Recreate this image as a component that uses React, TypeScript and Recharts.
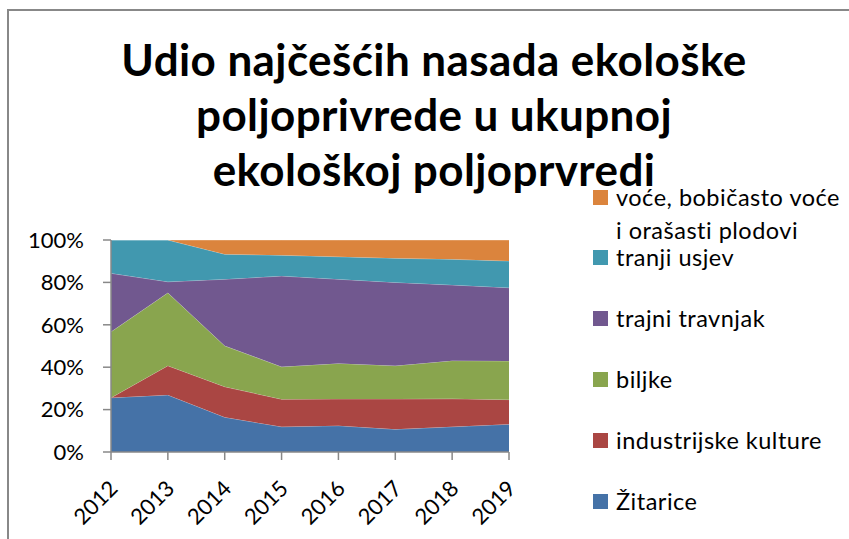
import { Area, AreaChart, XAxis, YAxis } from "recharts";

const YEARS = ["2012", "2013", "2014", "2015", "2016", "2017", "2018", "2019"];

const ZITARICE = [25.6, 26.9, 16.4, 11.9, 12.4, 10.7, 11.9, 13.1];
const INDUSTRIJSKE = [0, 13.8, 14.4, 13.0, 12.6, 14.3, 13.2, 11.6];
const BILJKE = [31.1, 34.4, 19.3, 15.3, 16.8, 15.7, 18.0, 18.2];
const TRAVNJAK = [27.6, 5.2, 31.4, 42.8, 39.7, 39.3, 35.7, 34.6];
const USJEV = [15.7, 19.7, 11.8, 9.8, 10.6, 11.4, 12.1, 12.6];
const VOCE = [0, 0, 6.7, 7.2, 7.9, 8.6, 9.1, 9.9];

const Y_TICKS = [0, 0.2, 0.4, 0.6, 0.8, 1];

const TITLE = [
  "Udio najčešćih nasada ekološke",
  "poljoprivrede u ukupnoj",
  "ekološkoj poljoprvredi",
];

// bottom of the stack first
const SERIES = [
  { key: "zitarice", name: "Žitarice", values: ZITARICE, color: "#4572A7" },
  { key: "industrijske", name: "industrijske kulture", values: INDUSTRIJSKE, color: "#AA4643" },
  { key: "biljke", name: "biljke", values: BILJKE, color: "#89A54E" },
  { key: "travnjak", name: "trajni travnjak", values: TRAVNJAK, color: "#71588F" },
  { key: "usjev", name: "tranji usjev", values: USJEV, color: "#4198AF" },
  { key: "voce", name: "voće, bobičasto voće i orašasti plodovi", values: VOCE, color: "#DB843D" },
];

const data = YEARS.map((year, i) => {
  const row: Record<string, string | number> = { year };
  SERIES.forEach((s) => {
    row[s.key] = s.values[i];
  });
  return row;
});

const FONT = "Lato, 'Open Sans', sans-serif";
const AXIS = "#888888";

function YearTick({ x, y, payload }: { x?: number; y?: number; payload?: { value: string } }) {
  return (
    <g transform={`translate(${x},${y})`}>
      <text
        x={0}
        y={0}
        transform="translate(8,28) rotate(-45)"
        textAnchor="end"
        fontSize={22}
        fontFamily={FONT}
        fill="#000"
      >
        {payload?.value}
      </text>
    </g>
  );
}

export default function App() {
  const legend = [...SERIES].reverse();
  return (
    <div
      style={{
        position: "absolute",
        left: 0,
        top: 0,
        width: 849,
        height: 539,
        overflow: "hidden",
        background: "#fff",
        fontFamily: FONT,
      }}
    >
      <div
        style={{
          position: "absolute",
          left: 7,
          top: 9,
          width: 900,
          height: 600,
          borderLeft: `2px solid ${AXIS}`,
          borderTop: `2px solid ${AXIS}`,
        }}
      />
      <div
        style={{
          position: "absolute",
          left: 34,
          top: 32,
          width: 800,
          textAlign: "center",
          fontWeight: 700,
          fontSize: 44,
          letterSpacing: 0.4,
          lineHeight: "55px",
          color: "#000",
        }}
      >
        {TITLE.map((t) => (
          <div key={t}>{t}</div>
        ))}
      </div>
      <div style={{ position: "absolute", left: 0, top: 0 }}>
        <AreaChart
          width={849}
          height={539}
          data={data}
          stackOffset="expand"
          margin={{ top: 240, right: 340, bottom: 7, left: 11 }}
        >
          <XAxis
            dataKey="year"
            height={80}
            stroke={AXIS}
            strokeWidth={1.5}
            tickSize={8}
            tick={<YearTick />}
            interval={0}
          />
          <YAxis
            width={100}
            domain={[0, 1]}
            ticks={Y_TICKS}
            tickFormatter={(v: number) => `${Math.round(v * 100)}%`}
            stroke={AXIS}
            strokeWidth={1.5}
            tickSize={8}
            tickMargin={19}
            tick={{ fill: "#000", fontSize: 22, fontFamily: FONT }}
          />
          {SERIES.map((s) => (
            <Area
              key={s.key}
              dataKey={s.key}
              name={s.name}
              stackId="1"
              type="linear"
              fill={s.color}
              fillOpacity={1}
              stroke="#ffffff"
              strokeOpacity={0.35}
              strokeWidth={1}
              isAnimationActive={false}
            />
          ))}
        </AreaChart>
      </div>
      {legend.map((s, i) => (
        <div
          key={s.key}
          style={{
            position: "absolute",
            left: 593,
            top: 197 + i * 60.8 - 16.5,
            display: "flex",
            alignItems: "flex-start",
          }}
        >
          <span
            style={{
              width: 15,
              height: 15,
              marginTop: 9,
              marginRight: 8,
              background: s.color,
              flex: "none",
            }}
          />
          <span
            style={{
              fontSize: 23.5,
              letterSpacing: 0.5,
              lineHeight: "33px",
              color: "#000",
              width: 228,
            }}
          >
            {s.name}
          </span>
        </div>
      ))}
    </div>
  );
}
